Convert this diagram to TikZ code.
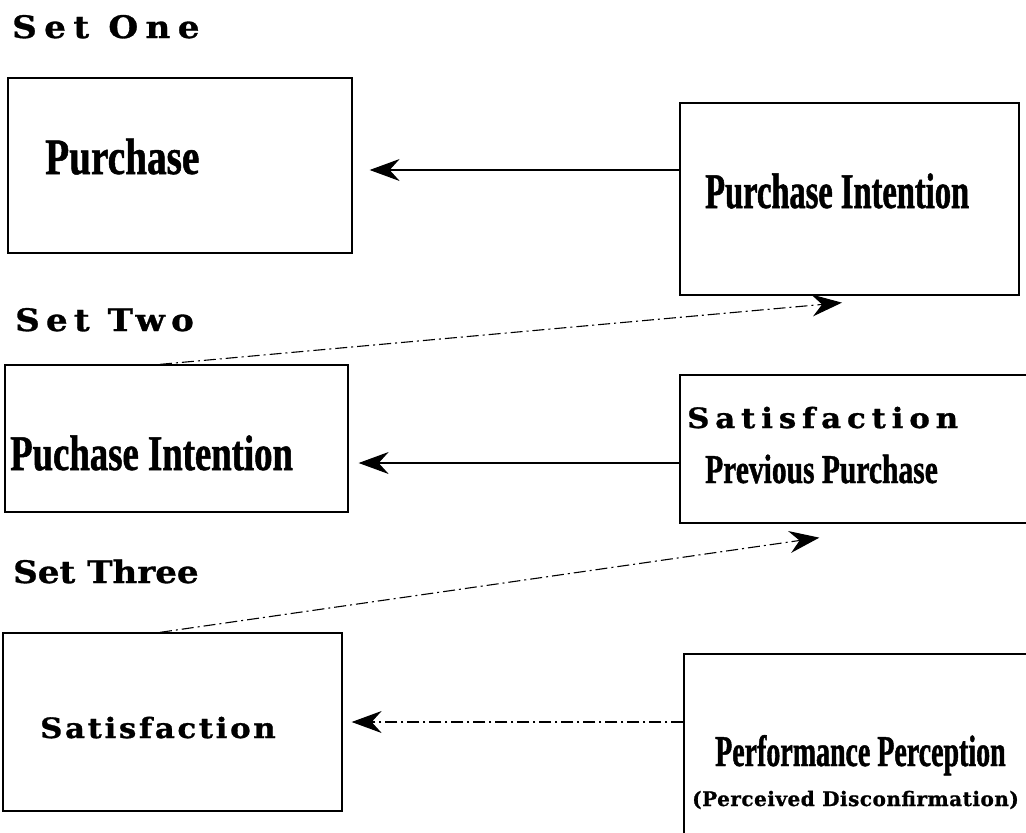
\documentclass[tikz,border=0pt]{standalone}
\usepackage{fontspec}
\usetikzlibrary{arrows.meta}
\newfontfamily\wideface{DejaVu Serif}[FakeBold=1]
\newfontfamily\narrowface{Liberation Serif}[FakeBold=1]
\tikzset{
  box/.style={draw, line width=1.3pt, inner sep=0pt},
  widetext/.style 2 args={anchor=base west, inner sep=0pt,
    font=\wideface\bfseries\fontsize{#1}{#1}\selectfont\addfontfeatures{FakeStretch=1.1, LetterSpace=#2}},
  condtext/.style 2 args={anchor=base west, inner sep=0pt,
    font=\narrowface\bfseries\fontsize{#1}{#1}\selectfont\addfontfeature{FakeStretch=#2}},
  link/.style={-{Stealth[length=30pt,width=22pt,inset=10pt]}, line width=1.1pt},
  dashlink/.style={link, dash pattern=on 12pt off 4pt on 2pt off 4pt}
}

\begin{document}
\begin{tikzpicture}[x=1pt, y=-1pt]
    \useasboundingbox (0,0) rectangle (1026,833);
    \clip (0,0) rectangle (1026,833);
    % set headings
    \node[widetext={31}{24}] (hone) at (12,38) {Set One};
    \node[widetext={31}{20}] (htwo) at (15,331) {Set Two};
    \node[widetext={31}{0}] (hthree) at (13,583) {Set Three};
    % boxes
    \node[box, minimum width=344pt, minimum height=175pt] (purch) at (180,165.5) {};
    \node[box, minimum width=339pt, minimum height=192pt] (intent) at (849.5,199) {};
    \node[box, minimum width=343pt, minimum height=147pt] (puch) at (176.5,438.5) {};
    \node[box, minimum width=360pt, minimum height=148pt] (satprev) at (860,449) {};
    \node[box, minimum width=339pt, minimum height=178pt] (sat) at (172.5,722) {};
    \node[box, minimum width=356pt, minimum height=196pt] (perf) at (862,752) {};
    % box texts
    \node[condtext={51}{0.77}] (tpurch) at (45,174) {Purchase};
    \node[condtext={50}{0.65}] (tintent) at (705,208) {Purchase Intention};
    \node[condtext={50}{0.735}] (tpuch) at (10,470) {Puchase Intention};
    \node[widetext={28}{21}] (tsatone) at (687,428) {Satisfaction};
    \node[condtext={41}{0.72}] (tprev) at (705,483) {Previous Purchase};
    \node[widetext={28}{9.5}] (tsat) at (40,738) {Satisfaction};
    \node[condtext={44}{0.635}] (tperf) at (715,766) {Performance Perception};
    \node[anchor=base west, inner sep=0pt,
      font=\wideface\bfseries\fontsize{20}{20}\selectfont\addfontfeature{LetterSpace=2.5}]
      (tdisc) at (692,806) {(Perceived Disconfirmation)};
    % connectors
    \draw[link, shorten >=17pt] ([yshift=29pt]intent.west) -- ([yshift=29pt]intent.west -| purch.east);
    \draw[dashlink] ([xshift=-16.5pt]puch.north) -- ([xshift=-7.5pt,yshift=-7pt]intent.south);
    \draw[link, shorten >=10pt] ([yshift=-14pt]satprev.west) -- ([yshift=-14pt]satprev.west -| puch.east);
    \draw[dashlink] ([xshift=-12.5pt]sat.north) -- ([xshift=140pt,yshift=-14pt]satprev.south west);
    \draw[dashlink, shorten >=9pt] ([yshift=30pt]perf.west) -- ([yshift=30pt]perf.west -| sat.east);
\end{tikzpicture}
\end{document}
